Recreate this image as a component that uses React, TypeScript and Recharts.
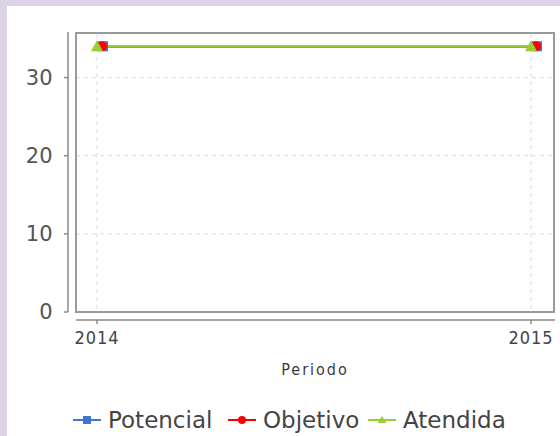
import React from 'react';
import { LineChart, Line, XAxis, YAxis, CartesianGrid, Legend, Customized } from 'recharts';
import * as R from 'recharts';

const periods = ['2014', '2015'];
const potencial = [34, 34];
const objetivo = [34, 34];
const atendida = [34, 34];
const seriesNames = ['Potencial', 'Objetivo', 'Atendida'];
const yTicks = [0, 10, 20, 30];
const yMax = 35.7;
const xTitle = 'Periodo';

const BLUE = '#3f74c8';
const RED = '#ff0000';
const GREEN = '#9acd32';

const data = periods.map((p, i) => ({
  periodo: p,
  Potencial: potencial[i],
  Objetivo: objetivo[i],
  Atendida: atendida[i],
}));

const W = 553;
const H = 430;
const MARGIN = { top: 27, right: 6, left: 0, bottom: 4 };
const YAXIS_W = 69;
const LEGEND_H = 24;
const XAXIS_H = 96;
const LEGEND_SLOTS = [155, 140, 150];

const usePA: any = (R as any).usePlotArea;

const Frame = () => {
  const pa = usePA ? usePA() : null;
  const x = pa?.x ?? MARGIN.left + YAXIS_W;
  const y = pa?.y ?? MARGIN.top;
  const w = pa?.width ?? W - x - MARGIN.right;
  const h = pa?.height ?? H - y - MARGIN.bottom - LEGEND_H - XAXIS_H;
  return (
    <g>
      <rect x={x} y={y} width={w} height={h} fill="none" stroke="#9a9a9a" strokeWidth={2} />
      <line x1={x - 8} y1={y - 1} x2={x - 8} y2={y + h} stroke="#8a8a8a" strokeWidth={1.5} />
      <line x1={x} y1={y + h + 8} x2={x + w + 1} y2={y + h + 8} stroke="#8a8a8a" strokeWidth={1.5} />
    </g>
  );
};

const YTick = (props: any) => {
  const { x, y, payload } = props;
  return (
    <g>
      <line x1={x - 12} x2={x - 8} y1={y} y2={y} stroke="#8a8a8a" strokeWidth={1.5} />
      <text
        x={x - 23}
        y={y}
        textAnchor="end"
        dominantBaseline="central"
        fontFamily="DejaVu Sans"
        fontSize={21}
        letterSpacing={0.3}
        fill="#555"
      >
        {payload.value}
      </text>
    </g>
  );
};

const XTick = (props: any) => {
  const { x, y, payload, index } = props;
  return (
    <g>
      <line x1={x} x2={x} y1={y + 8} y2={y + 12} stroke="#8a8a8a" strokeWidth={1.5} />
      <text
        x={x}
        y={y + 25}
        textAnchor="middle"
        dominantBaseline="central"
        fontFamily="DejaVu Sans Condensed"
        fontSize={18}
        letterSpacing={1}
        fill="#444"
      >
        {payload.value}
      </text>
      {index === 0 ? (
        <text
          x={(MARGIN.left + YAXIS_W + (W - MARGIN.right)) / 2}
          y={y + 57}
          textAnchor="middle"
          dominantBaseline="central"
          fontFamily="DejaVu Sans Condensed"
          fontSize={16}
          letterSpacing={2}
          fill="#3a3a3a"
        >
          {xTitle}
        </text>
      ) : null}
    </g>
  );
};

const SquareDot = (p: any) =>
  p.cx == null ? null : (
    <rect key={p.key ?? `s${p.index}`} x={p.cx + 6 - 5} y={p.cy - 5} width={10} height={10} fill={BLUE} />
  );
const CircleDot = (p: any) =>
  p.cx == null ? null : <circle key={p.key ?? `c${p.index}`} cx={p.cx + 5} cy={p.cy} r={5} fill={RED} />;
const TriDot = (p: any) =>
  p.cx == null ? null : (
    <path
      key={p.key ?? `t${p.index}`}
      d={`M${p.cx},${p.cy - 6} L${p.cx + 6},${p.cy + 5} L${p.cx - 6},${p.cy + 5} Z`}
      fill={GREEN}
    />
  );

const legendMarker = (name: string, color: string) => {
  let shape: any = null;
  if (name === 'Potencial') shape = <rect x={10} y={4} width={8} height={8} fill={color} />;
  else if (name === 'Objetivo') shape = <circle cx={14} cy={8} r={4} fill={color} />;
  else shape = <path d="M14,4 L18.5,11 L9.5,11 Z" fill={color} />;
  return (
    <svg width={28} height={16} style={{ display: 'block', flex: '0 0 auto' }}>
      <line x1={0} x2={28} y1={8} y2={8} stroke={color} strokeWidth={2} />
      {shape}
    </svg>
  );
};

const LegendContent = (props: any) => {
  const items = [...(props.payload || [])].sort(
    (a: any, b: any) => seriesNames.indexOf(a.value) - seriesNames.indexOf(b.value)
  );
  return (
    <div
      style={{
        display: 'flex',
        alignItems: 'center',
        height: LEGEND_H,
        paddingLeft: 66,
        fontFamily: 'DejaVu Sans',
        fontSize: 23,
        color: '#444',
      }}
    >
      {items.map((it: any, i: number) => (
        <div
          key={it.value}
          style={{ display: 'flex', alignItems: 'center', width: LEGEND_SLOTS[i], flex: '0 0 auto', whiteSpace: 'nowrap' }}
        >
          {legendMarker(it.value, it.color)}
          <span style={{ marginLeft: 7, lineHeight: `${LEGEND_H}px` }}>{it.value}</span>
        </div>
      ))}
    </div>
  );
};

export default function App() {
  return (
    <div style={{ position: 'absolute', left: 0, top: 0, width: 560, height: 436, background: '#dcd3e6' }}>
      <div style={{ position: 'absolute', left: 7, top: 6, width: W, height: H, background: '#ffffff' }}>
        <LineChart width={W} height={H} data={data} margin={MARGIN}>
          <CartesianGrid stroke="#dedede" strokeDasharray="4 4" />
          <XAxis
            dataKey="periodo"
            scale="point"
            padding={{ left: 21, right: 23 }}
            height={XAXIS_H}
            axisLine={false}
            tickLine={false}
            tickSize={0}
            tickMargin={0}
            tick={<XTick />}
            interval={0}
          />
          <YAxis
            domain={[0, yMax]}
            ticks={yTicks}
            width={YAXIS_W}
            axisLine={false}
            tickLine={false}
            tickSize={0}
            tickMargin={0}
            tick={<YTick />}
          />
          <Legend verticalAlign="bottom" height={LEGEND_H} content={<LegendContent />} />
          <Customized component={Frame} />
          <Line dataKey="Potencial" stroke={BLUE} strokeWidth={2.5} dot={SquareDot} isAnimationActive={false} />
          <Line dataKey="Objetivo" stroke={RED} strokeWidth={2.5} dot={CircleDot} isAnimationActive={false} />
          <Line dataKey="Atendida" stroke={GREEN} strokeWidth={2.5} dot={TriDot} isAnimationActive={false} />
        </LineChart>
      </div>
    </div>
  );
}
